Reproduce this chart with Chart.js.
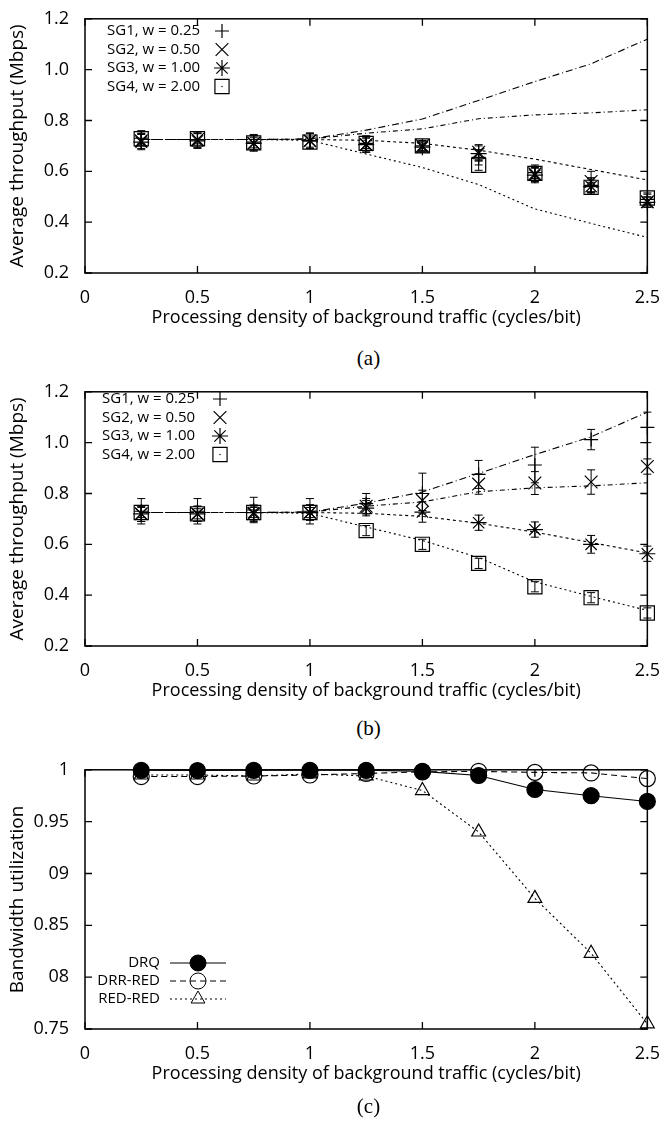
<!DOCTYPE html>
<html>
<head>
<meta charset="utf-8">
<script src="https://cdn.jsdelivr.net/npm/chart.js@4.4.1/dist/chart.umd.min.js"></script>
<style>
  body { margin: 0; background: #fff; width: 666px; height: 1125px; position: relative; overflow: hidden; }
  .panel { position: absolute; left: 0; width: 666px; }
  .cap { position: absolute; left: 85px; width: 567px; text-align: center; line-height: 24px;
         font-family: "Liberation Serif", "DejaVu Serif", serif; font-size: 21px; color: #000; }
</style>
</head>
<body>
<div class="panel" style="top:0;height:340px"><canvas id="chartA"></canvas></div>
<div class="cap" style="top:346px">(a)</div>
<div class="panel" style="top:373px;height:340px"><canvas id="chartB"></canvas></div>
<div class="cap" style="top:716px">(b)</div>
<div class="panel" style="top:751px;height:345px"><canvas id="chartC"></canvas></div>
<div class="cap" style="top:1094px">(c)</div>
<script>
// x positions and axis labels
const xVals = [0.25, 0.5, 0.75, 1, 1.25, 1.5, 1.75, 2, 2.25, 2.5];
const xTickLabels = ['0', '0.5', '1', '1.5', '2', '2.5'];
const yTickLabelsAB = ['0.2', '0.4', '0.6', '0.8', '1.0', '1.2'];
const yTickLabelsC = ['0.75', '08', '0.85', '09', '0.95', '1'];
const xTitle = 'Processing density of background traffic (cycles/bit)';
const yTitleAB = 'Average throughput (Mbps)';
const yTitleC = 'Bandwidth utilization';
const sgNames = ['SG1, w = 0.25', 'SG2, w = 0.50', 'SG3, w = 1.00', 'SG4, w = 2.00'];
const utilNames = ['DRQ', 'DRR-RED', 'RED-RED'];

// model curves (same in a and b)
const sg1Line = [0.725, 0.725, 0.725, 0.727, 0.762, 0.806, 0.879, 0.953, 1.023, 1.12];
const sg2Line = [0.725, 0.725, 0.725, 0.727, 0.75, 0.767, 0.807, 0.822, 0.83, 0.842];
const sg3Line = [0.725, 0.725, 0.725, 0.725, 0.722, 0.71, 0.683, 0.648, 0.607, 0.566];
const sg4Line = [0.725, 0.725, 0.725, 0.722, 0.668, 0.615, 0.548, 0.452, 0.395, 0.34];

// (a) measured
const sg1A = [0.73, 0.725, 0.715, 0.72, 0.71, 0.70, 0.655, 0.595, 0.545, 0.49];
const sg2A = [0.72, 0.725, 0.71, 0.72, 0.705, 0.70, 0.675, 0.59, 0.56, 0.48];
const sg3A = [0.715, 0.72, 0.71, 0.72, 0.705, 0.695, 0.67, 0.585, 0.54, 0.478];
const sg4A = [0.728, 0.728, 0.712, 0.715, 0.71, 0.70, 0.624, 0.592, 0.537, 0.495];
const sg1ErrA = [0.03, 0.03, 0.03, 0.03, 0.03, 0.02, 0.03, 0.03, 0.03, 0.02];
const sg2ErrA = [0.03, 0.03, 0.03, 0.03, 0.03, 0.02, 0.03, 0.03, 0.04, 0.02];
const sg3ErrA = [0.03, 0.03, 0.03, 0.03, 0.03, 0.02, 0.03, 0.03, 0.03, 0.02];
const sg4ErrA = [0.02, 0.02, 0.02, 0.02, 0.02, 0.02, 0.02, 0.02, 0.02, 0.02];

// (b) measured
const sg1B = [0.73, 0.73, 0.735, 0.73, 0.76, 0.80, 0.875, 0.912, 1.012, 1.06];
const sg2B = [0.72, 0.72, 0.72, 0.725, 0.75, 0.773, 0.837, 0.841, 0.845, 0.906];
const sg3B = [0.72, 0.72, 0.725, 0.725, 0.742, 0.727, 0.685, 0.658, 0.60, 0.563];
const sg4B = [0.725, 0.72, 0.725, 0.725, 0.654, 0.60, 0.525, 0.433, 0.39, 0.33];
const sg1ErrB = [0.05, 0.05, 0.05, 0.05, 0.04, 0.08, 0.055, 0.07, 0.04, 0.06];
const sg2ErrB = [0.03, 0.03, 0.03, 0.03, 0.03, 0.04, 0.04, 0.045, 0.048, 0.03];
const sg3ErrB = [0.03, 0.03, 0.03, 0.03, 0.03, 0.04, 0.03, 0.03, 0.035, 0.03];
const sg4ErrB = [0.02, 0.02, 0.02, 0.02, 0.02, 0.02, 0.02, 0.02, 0.02, 0.02];

// (c) bandwidth utilization
const drq = [0.9995, 0.9993, 0.9995, 0.9995, 0.9995, 0.9985, 0.9945, 0.981, 0.975, 0.9695];
const drrRed = [0.9935, 0.9935, 0.994, 0.995, 0.9965, 0.998, 0.9985, 0.9975, 0.997, 0.9915];
const redRed = [0.995, 0.995, 0.994, 0.996, 0.994, 0.98, 0.94, 0.876, 0.823, 0.755];

const pts = arr => arr.map((v, i) => ({ x: xVals[i], y: v }));
const FONT = '"Open Sans", "DejaVu Sans", sans-serif';
const NONE = 'rgba(0,0,0,0)';

const sgStyles = [
  { pointStyle: 'cross', radius: 7, dash: [7, 3, 1, 3] },
  { pointStyle: 'crossRot', radius: 9, dash: [5, 3, 1, 3] },
  { pointStyle: 'star', radius: 8, dash: [3, 3] },
  { pointStyle: 'rect', radius: 10, dash: [2, 3] }
];
const utilStyles = [
  { pointStyle: 'circle', radius: 8, fill: '#000', dash: [] },
  { pointStyle: 'circle', radius: 8, fill: NONE, dash: [6, 4] },
  { pointStyle: 'triangle', radius: 8, fill: NONE, dash: [2, 3] }
];

// frame with inward ticks on all four sides
const frameTicks = {
  id: 'frameTicks',
  afterDraw(chart) {
    const { ctx, chartArea: a, scales: { x, y } } = chart;
    ctx.save();
    ctx.strokeStyle = '#000';
    ctx.setLineDash([]);
    ctx.lineWidth = 1.5;
    ctx.strokeRect(a.left, a.top, a.right - a.left, a.bottom - a.top);
    ctx.lineWidth = 1.3;
    const len = 7;
    ctx.beginPath();
    x.ticks.forEach((t, i) => {
      const px = x.getPixelForTick(i);
      ctx.moveTo(px, a.bottom); ctx.lineTo(px, a.bottom - len);
      ctx.moveTo(px, a.top); ctx.lineTo(px, a.top + len);
    });
    y.ticks.forEach((t, i) => {
      const py = y.getPixelForTick(i);
      ctx.moveTo(a.left, py); ctx.lineTo(a.left + len, py);
      ctx.moveTo(a.right, py); ctx.lineTo(a.right - len, py);
    });
    ctx.stroke();
    ctx.restore();
  }
};

// vertical error bars from dataset.errors
const errorBars = {
  id: 'errorBars',
  afterDatasetsDraw(chart) {
    const { ctx, scales: { y } } = chart;
    ctx.save();
    ctx.strokeStyle = '#000';
    ctx.lineWidth = 1;
    ctx.setLineDash([]);
    chart.data.datasets.forEach((ds, i) => {
      if (!ds.errors) return;
      chart.getDatasetMeta(i).data.forEach((pt, j) => {
        const v = ds.data[j].y, e = ds.errors[j];
        const top = y.getPixelForValue(v + e), bot = y.getPixelForValue(v - e);
        ctx.beginPath();
        ctx.moveTo(pt.x, top); ctx.lineTo(pt.x, bot);
        ctx.moveTo(pt.x - 4, top); ctx.lineTo(pt.x + 4, top);
        ctx.moveTo(pt.x - 4, bot); ctx.lineTo(pt.x + 4, bot);
        ctx.stroke();
      });
    });
    ctx.restore();
  }
};

// gnuplot-like key inside the plot (config kept in a closure)
function makeKey(cfg) {
  return {
    id: 'key',
    afterDraw(chart) {
      const ctx = chart.ctx;
      ctx.save();
      ctx.font = cfg.font;
      ctx.textBaseline = 'middle';
      ctx.textAlign = cfg.align;
      cfg.items.forEach((it, k) => {
        const yy = cfg.y0 + k * cfg.dy;
        ctx.fillStyle = '#000';
        ctx.strokeStyle = '#000';
        ctx.fillText(it.text, cfg.textX, yy);
        if (cfg.lineX0 != null) {
          ctx.lineWidth = 1;
          ctx.setLineDash(it.dash);
          ctx.beginPath();
          ctx.moveTo(cfg.lineX0, yy); ctx.lineTo(cfg.lineX1, yy);
          ctx.stroke();
        }
        ctx.setLineDash([]);
        ctx.fillStyle = it.fill;
        Chart.helpers.drawPoint(ctx, { pointStyle: it.pointStyle, radius: it.radius, rotation: 0, borderWidth: 1.2 }, cfg.symX, yy);
        if (it.pointStyle === 'rect') {
          ctx.fillStyle = '#000';
          ctx.fillRect(cfg.symX - 0.6, yy - 0.6, 1.2, 1.2);
        }
      });
      ctx.restore();
    }
  };
}

function makeScales(yMin, yMax, yStep, yLabels, yTitle) {
  return {
    x: {
      type: 'linear', min: 0, max: 2.5,
      grid: { display: false }, border: { display: false },
      afterFit: s => { s.height = 67; },
      ticks: { stepSize: 0.5, padding: 6, color: '#000', font: { family: FONT, size: 18 },
               maxRotation: 0, callback: (v, i) => xTickLabels[i] },
      title: { display: true, text: xTitle, color: '#000', font: { family: FONT, size: 18 },
               padding: { top: 0, bottom: 11 } }
    },
    y: {
      type: 'linear', min: yMin, max: yMax,
      grid: { display: false }, border: { display: false },
      afterFit: s => { s.width = 85; },
      ticks: { stepSize: yStep, padding: 8, color: '#000', font: { family: FONT, size: 18 },
               callback: (v, i) => yLabels[i] },
      title: { display: true, text: yTitle, color: '#000', font: { family: FONT, size: 19 },
               padding: { top: 6, bottom: 0 } }
    }
  };
}

function throughputChart(id, lines, marks, errs, keyPos) {
  const datasets = [];
  marks.forEach((m, k) => {
    datasets.push({
      data: pts(m), showLine: false, clip: false, errors: errs[k],
      pointStyle: sgStyles[k].pointStyle, pointRadius: sgStyles[k].radius,
      pointBorderWidth: 1.2, borderColor: '#000', backgroundColor: NONE
    });
  });
  lines.forEach((l, k) => {
    datasets.push({
      data: pts(l), showLine: true, clip: false, pointRadius: 0,
      borderColor: '#000', borderWidth: 1.1, borderDash: sgStyles[k].dash, fill: false
    });
  });
  const key = makeKey(Object.assign({
    items: sgNames.map((n, k) => ({ text: n, pointStyle: sgStyles[k].pointStyle, radius: sgStyles[k].radius, fill: NONE })),
    align: 'left', dy: 18.5, font: '15px ' + FONT
  }, keyPos));
  return new Chart(document.getElementById(id), {
    type: 'scatter',
    data: { datasets },
    options: {
      responsive: true, maintainAspectRatio: false, animation: false, events: [],
      layout: { padding: { left: 0, right: 14, top: 12, bottom: 0 } },
      scales: makeScales(0.2, 1.2, 0.2, yTickLabelsAB, yTitleAB),
      plugins: { legend: { display: false }, tooltip: { enabled: false } }
    },
    plugins: [errorBars, frameTicks, key]
  });
}

throughputChart('chartA', [sg1Line, sg2Line, sg3Line, sg4Line], [sg1A, sg2A, sg3A, sg4A],
  [sg1ErrA, sg2ErrA, sg3ErrA, sg4ErrA], { textX: 107, symX: 222, y0: 31 });
throughputChart('chartB', [sg1Line, sg2Line, sg3Line, sg4Line], [sg1B, sg2B, sg3B, sg4B],
  [sg1ErrB, sg2ErrB, sg3ErrB, sg4ErrB], { textX: 102, symX: 220, y0: 26 });

// (c)
new Chart(document.getElementById('chartC'), {
  type: 'scatter',
  data: {
    datasets: [drq, drrRed, redRed].map((d, k) => ({
      data: pts(d), showLine: true, clip: false,
      borderColor: '#000', borderWidth: 1.1, borderDash: utilStyles[k].dash,
      pointStyle: utilStyles[k].pointStyle, pointRadius: utilStyles[k].radius,
      pointBorderWidth: 1.2, pointBackgroundColor: utilStyles[k].fill, pointBorderColor: '#000'
    }))
  },
  options: {
    responsive: true, maintainAspectRatio: false, animation: false, events: [],
    layout: { padding: { left: 0, right: 14, top: 12, bottom: 0 } },
    scales: makeScales(0.75, 1, 0.05, yTickLabelsC, yTitleC),
    plugins: { legend: { display: false }, tooltip: { enabled: false } }
  },
  plugins: [frameTicks, makeKey({
    items: utilNames.map((n, k) => ({ text: n, pointStyle: utilStyles[k].pointStyle,
      radius: utilStyles[k].radius, fill: utilStyles[k].fill, dash: utilStyles[k].dash })),
    align: 'right', textX: 160, lineX0: 170, lineX1: 226, symX: 198, y0: 212, dy: 18,
    font: '15px ' + FONT
  })]
});
</script>
</body>
</html>
